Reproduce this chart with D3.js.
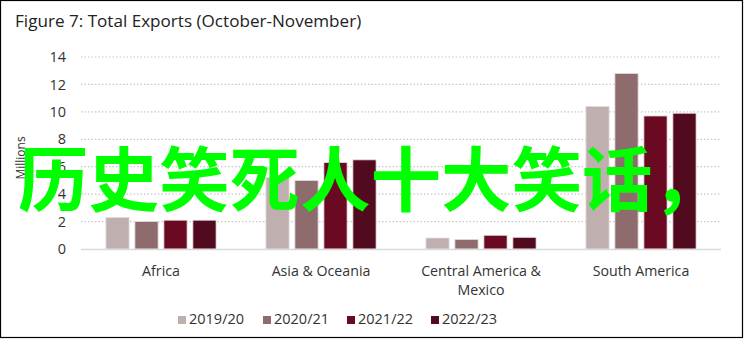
<!DOCTYPE html>
<html><head><meta charset="utf-8">
<script src="https://cdn.jsdelivr.net/npm/d3@7"></script>
<style>body{margin:0;background:#fff}svg{display:block}</style>
</head><body>
<svg id="c" width="745" height="340"></svg>
<script>
const categories = ["Africa", "Asia & Oceania", "Central America & Mexico", "South America"];
const seriesNames = ["2019/20", "2020/21", "2021/22", "2022/23"];
const v2019 = [2.3, 5.2, 0.8, 10.4];
const v2020 = [2.0, 5.0, 0.7, 12.8];
const v2021 = [2.1, 6.3, 1.0, 9.7];
const v2022 = [2.1, 6.5, 0.85, 9.9];
const yTicks = [0, 2, 4, 6, 8, 10, 12, 14];
const colors = ["#bfb0af", "#8e6b6d", "#6a0a22", "#520a1e"];
const title = "Figure 7: Total Exports (October-November)";
const overlay = "历史笑死人十大笑话，";

const series = [v2019, v2020, v2021, v2022];
const svg = d3.select("#c");
const font = "'Open Sans', 'Noto Sans', sans-serif";

svg.append("rect").attr("x", 0.5).attr("y", 0.5).attr("width", 742).attr("height", 337)
  .attr("fill", "#fff").attr("stroke", "#000").attr("stroke-width", 1.2);

svg.append("text").attr("x", 15).attr("y", 27).attr("font-family", font)
  .attr("font-size", 17.1).attr("fill", "#222").text(title);

const x0 = d3.scaleBand().domain(categories).range([81, 721]).paddingInner(0).paddingOuter(0);
const x1 = d3.scaleBand().domain(seriesNames).range([0, x0.bandwidth()]).paddingInner(0.2).paddingOuter(0.86);
const y = d3.scaleLinear().domain([0, 14]).range([249, 57]);

// gridlines
svg.append("g").selectAll("line").data(yTicks.filter(d => d > 0)).join("line")
  .attr("x1", 81).attr("x2", 721).attr("y1", d => y(d)).attr("y2", d => y(d))
  .attr("stroke", "#c8c8c8").attr("stroke-width", 1.2).attr("stroke-dasharray", "1.5,2");

// y axis
const yAxis = d3.axisLeft(y).tickValues(yTicks).tickSize(0).tickPadding(0).tickFormat(d3.format("d"));
const ya = svg.append("g").attr("transform", "translate(66,0)").call(yAxis);
ya.select(".domain").remove();
ya.selectAll("text").attr("font-family", font).attr("font-size", 14.5).attr("fill", "#333");

svg.append("text").attr("transform", "translate(25,158) rotate(-90)").attr("text-anchor", "middle")
  .attr("font-family", font).attr("font-size", 12).attr("fill", "#333").text("Millions");

// bars
const g = svg.append("g");
categories.forEach((c, i) => {
  series.forEach((s, j) => {
    g.append("rect").attr("x", x0(c) + x1(seriesNames[j])).attr("width", x1.bandwidth())
      .attr("y", y(s[i])).attr("height", y(0) - y(s[i]))
      .attr("fill", colors[j]).attr("stroke", "#e6dcdc").attr("stroke-width", 0.8);
  });
});

// baseline
svg.append("line").attr("x1", 81).attr("x2", 721).attr("y1", y(0) + 0.5).attr("y2", y(0) + 0.5)
  .attr("stroke", "#d9d9d9").attr("stroke-width", 1.5);

// x axis labels
const xa = svg.append("g").attr("transform", "translate(0,276)").call(d3.axisBottom(x0).tickSize(0).tickPadding(0));
xa.select(".domain").remove();
xa.selectAll("text").attr("font-family", font).attr("font-size", 14.2).attr("fill", "#333").attr("dy", 0)
  .attr("y", 0)
  .each(function(d) {
    const t = d3.select(this);
    if (d === "Central America & Mexico") {
      t.text(null);
      t.append("tspan").attr("x", 0).attr("dy", 0).text("Central America &");
      t.append("tspan").attr("x", 0).attr("dy", 19).text("Mexico");
    }
  });

// legend
const lx = [178, 263, 347, 431];
const lg = svg.append("g");
seriesNames.forEach((n, j) => {
  lg.append("rect").attr("x", lx[j]).attr("y", 316).attr("width", 8).attr("height", 8).attr("fill", colors[j]);
  lg.append("text").attr("x", lx[j] + 11).attr("y", 324).attr("font-family", font).attr("font-size", 14.5)
    .attr("fill", "#333").text(n);
});

// overlay text
svg.append("text").attr("x", 18).attr("y", 206).attr("font-family", "'Noto Sans CJK SC'")
  .attr("font-weight", "bold").attr("font-size", 70.5).attr("fill", "#00ff00").text(overlay);
</script>
</body></html>
